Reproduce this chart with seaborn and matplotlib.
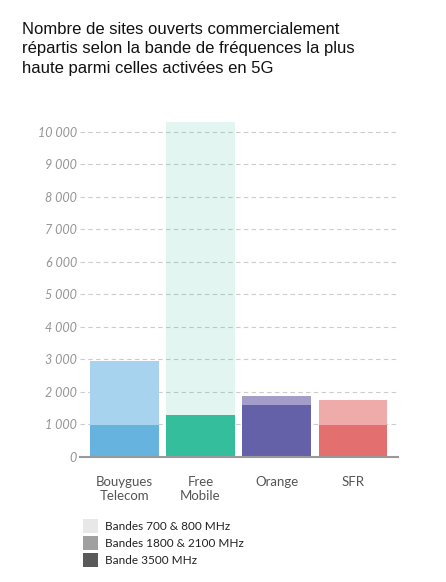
import numpy as np
import pandas as pd
import matplotlib
matplotlib.use("Agg")
import matplotlib.pyplot as plt
import matplotlib.patches as mpatches
import seaborn as sns

# data
operateurs = ["Bouygues\nTelecom", "Free\nMobile", "Orange", "SFR"]
bande_3500 = [990, 1280, 1580, 980]
bande_1800_2100 = [1960, 0, 290, 770]
bande_700_800 = [0, 9000, 0, 0]
yticks = [0, 1000, 2000, 3000, 4000, 5000, 6000, 7000, 8000, 9000, 10000]
legend_labels = ["Bandes 700 & 800 MHz", "Bandes 1800 & 2100 MHz", "Bande 3500 MHz"]

# colours per operator, per band level
dark_cols = ["#67b3df", "#35be9c", "#6561a8", "#e46f6f"]
mid_cols = ["#a8d3ee", "#9fdcc9", "#a49cc9", "#efaaaa"]
legend_cols = ["#e8e8e8", "#a0a0a0", "#5a5a5a"]

df = pd.DataFrame({
    "op": operateurs,
    "b3500": bande_3500,
    "b1800": bande_1800_2100,
    "b700": bande_700_800,
})
df["lvl1"] = df["b3500"]
df["lvl2"] = df["lvl1"] + df["b1800"]
df["lvl3"] = df["lvl2"] + df["b700"]

sns.set_style("white")
plt.rcParams["font.family"] = ["Lato", "DejaVu Sans"]

fig = plt.figure(figsize=(4.46, 5.82), dpi=100)
ax = fig.add_axes([0.179, 0.2153, 0.713, 0.581])

# stacked bars: draw cumulative totals from the top level down
# top level (700/800) is a translucent tint so the grid shows through
sns.barplot(data=df, x="op", y="lvl3", hue="op", palette=dark_cols, alpha=0.14,
            width=0.9, legend=False, saturation=1, linewidth=0, ax=ax, zorder=2)
sns.barplot(data=df, x="op", y="lvl2", hue="op", palette=mid_cols,
            width=0.9, legend=False, saturation=1, linewidth=0, ax=ax, zorder=3)
sns.barplot(data=df, x="op", y="lvl1", hue="op", palette=dark_cols,
            width=0.9, legend=False, saturation=1, linewidth=0, ax=ax, zorder=4)

ax.set_xlim(-0.585, 3.59)
ax.set_ylim(0, 10400)
ax.set_yticks(yticks)
ax.set_yticklabels([f"{v:,}".replace(",", " ") for v in yticks],
                   fontsize=9, color="#959595", style="italic")
ax.tick_params(axis="x", labelsize=9.5, colors="#555555", length=0, pad=14)
ax.tick_params(axis="y", length=0, pad=2)
ax.set_xlabel("")
ax.set_ylabel("")

ax.yaxis.grid(True, color="#cccccc", linestyle=(0, (4, 3)), linewidth=0.8, zorder=0)
ax.set_axisbelow(True)
for s in ["top", "right", "left"]:
    ax.spines[s].set_visible(False)
ax.spines["bottom"].set_color("#999999")
ax.spines["bottom"].set_linewidth(1.5)
ax.spines["bottom"].set_zorder(5)

fig.text(0.049, 0.963,
         "Nombre de sites ouverts commercialement\nrépartis selon la bande de fréquences la plus\nhaute parmi celles activées en 5G",
         fontsize=12, family=["Liberation Sans", "DejaVu Sans"], color="#111111",
         va="top", ha="left", linespacing=1.4)

handles = [mpatches.Patch(facecolor=c, edgecolor="none") for c in legend_cols]
fig.legend(handles, legend_labels, loc="upper left", bbox_to_anchor=(0.186, 0.108),
           frameon=False, fontsize=8.5, handlelength=1.25, handleheight=1.45,
           handletextpad=0.6, labelspacing=0.25, borderaxespad=0, borderpad=0,
           labelcolor="#222222")

fig.savefig("out.png", dpi=100)
